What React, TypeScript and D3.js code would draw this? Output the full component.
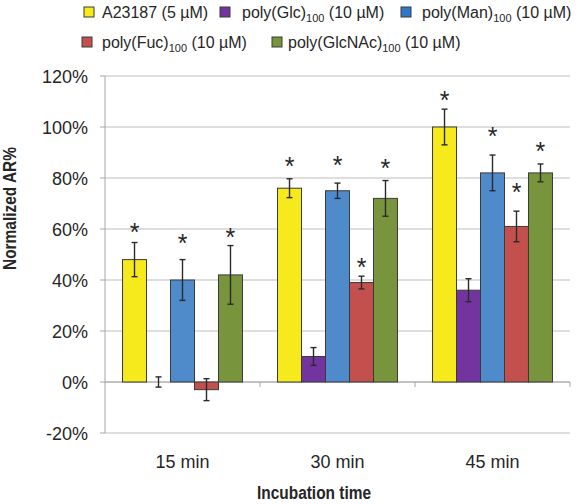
import React from "react";
import * as d3 from "d3";

const categories = ["15 min", "30 min", "45 min"];
const seriesKeys = ["A23187", "polyGlc", "polyMan", "polyFuc", "polyGlcNAc"];
const seriesPre = ["A23187 (5 µM)", "poly(Glc)", "poly(Man)", "poly(Fuc)", "poly(GlcNAc)"];
const seriesSub = ["", "100", "100", "100", "100"];
const seriesPost = ["", " (10 µM)", " (10 µM)", " (10 µM)", " (10 µM)"];
const seriesColors = ["#f7ea1c", "#7434a0", "#4f8acb", "#c4504e", "#78953d"];
const legendColors = ["#f7ea1c", "#7434a0", "#2f78c8", "#c4504e", "#78953d"];

// values per series, per category (%)
const valA23187 = [48, 76, 100];
const valGlc = [0, 10, 36];
const valMan = [40, 75, 82];
const valFuc = [-3, 39, 61];
const valGlcNAc = [42, 72, 82];

const errA23187 = [6.7, 3.7, 7];
const errGlc = [2, 3.5, 4.5];
const errMan = [8, 3, 7];
const errFuc = [4.3, 2.5, 6];
const errGlcNAc = [11.5, 7, 3.5];

// significance star positions (value units, % ); null = no star
const starA23187 = [60.6, 86.8, 112.6];
const starGlc = [null, null, null];
const starMan = [56.3, 87.2, 98.5];
const starFuc = [null, 47, 76.3];
const starGlcNAc = [59, 86, 92.7];

const yTicks = [-20, 0, 20, 40, 60, 80, 100, 120];

const values = [valA23187, valGlc, valMan, valFuc, valGlcNAc];
const errors = [errA23187, errGlc, errMan, errFuc, errGlcNAc];
const stars = [starA23187, starGlc, starMan, starFuc, starGlcNAc];

const W = 578;
const H = 504;
const plotLeft = 105;
const plotRight = 570;
const plotTop = 76;
const plotBottom = 433;

const legendLayout = [
  { sx: 84, tx: 102, cy: 12 },
  { sx: 220, tx: 242, cy: 12 },
  { sx: 401, tx: 422, cy: 12 },
  { sx: 82, tx: 102, cy: 42 },
  { sx: 272, tx: 288, cy: 42 },
];

const FONT = "'Liberation Sans', Arial, sans-serif";
const TEXT = "#262626";

export default function App() {
  const y = d3.scaleLinear().domain([-20, 120]).range([plotBottom, plotTop]);
  const x0 = d3.scaleBand<string>().domain(categories).range([plotLeft, plotRight]).paddingInner(0).paddingOuter(0);
  const bw = x0.bandwidth();
  const x1 = d3.scaleBand<string>().domain(seriesKeys).range([0, bw]).paddingInner(0).paddingOuter(0.73);
  const barW = x1.bandwidth();
  const y0 = y(0);

  return (
    <svg width={W} height={H} style={{ position: "absolute", left: 0, top: 0, background: "#fff" }} fontFamily={FONT}>
      <rect x={0} y={0} width={W} height={H} fill="#fff" />
      {/* gridlines */}
      {yTicks.map((t) => (
        <line key={"g" + t} x1={plotLeft} x2={plotRight} y1={y(t)} y2={y(t)} stroke="#bdbdbd" strokeWidth={1} />
      ))}
      {/* y axis */}
      <line x1={plotLeft} x2={plotLeft} y1={plotTop} y2={plotBottom} stroke="#a6a6a6" strokeWidth={1} />
      {yTicks.map((t) => (
        <g key={"t" + t}>
          <line x1={plotLeft - 5} x2={plotLeft} y1={y(t)} y2={y(t)} stroke="#a6a6a6" />
          <text x={88} y={y(t) + 6.5} textAnchor="end" fontSize={18} fill={TEXT}>
            {t + "%"}
          </text>
        </g>
      ))}
      {/* category ticks at zero line */}
      <line x1={plotLeft} x2={plotRight} y1={y0} y2={y0} stroke="#a6a6a6" />
      {categories.map((c) => (
        <line key={"ct" + c} x1={(x0(c) as number) + bw} x2={(x0(c) as number) + bw} y1={y0} y2={y0 + 5} stroke="#a6a6a6" />
      ))}
      {/* bars */}
      {seriesKeys.map((s, si) =>
        categories.map((c, ci) => {
          const v = values[si][ci];
          const bx = (x0(c) as number) + (x1(s) as number);
          const top = Math.min(y(v), y0);
          const h = Math.abs(y(v) - y0);
          return (
            <rect key={s + c} x={bx} y={top} width={barW} height={h} fill={seriesColors[si]} stroke="#3a3a3a" strokeWidth={1} />
          );
        })
      )}
      {/* error bars */}
      {seriesKeys.map((s, si) =>
        categories.map((c, ci) => {
          const v = values[si][ci];
          const e = errors[si][ci];
          const cx = (x0(c) as number) + (x1(s) as number) + barW / 2;
          return (
            <g key={"e" + s + c} stroke="#2a2a2a" strokeWidth={1.4}>
              <line x1={cx} x2={cx} y1={y(v + e)} y2={y(v - e)} />
              <line x1={cx - 3} x2={cx + 3} y1={y(v + e)} y2={y(v + e)} />
              <line x1={cx - 3} x2={cx + 3} y1={y(v - e)} y2={y(v - e)} />
            </g>
          );
        })
      )}
      {/* stars */}
      {seriesKeys.map((s, si) =>
        categories.map((c, ci) => {
          const st = stars[si][ci];
          if (st === null) return null;
          const cx = (x0(c) as number) + (x1(s) as number) + barW / 2;
          return (
            <text key={"s" + s + c} x={cx} y={y(st) + 14} textAnchor="middle" fontSize={25} fill={TEXT}>
              *
            </text>
          );
        })
      )}
      {/* category labels */}
      {categories.map((c) => (
        <text key={"cl" + c} x={(x0(c) as number) + bw / 2} y={468} textAnchor="middle" fontSize={18} fill={TEXT}>
          {c}
        </text>
      ))}
      {/* axis titles */}
      <text x={314} y={499} textAnchor="middle" fontSize={18} fontWeight="bold" fill={TEXT} textLength={114} lengthAdjust="spacingAndGlyphs">
        Incubation time
      </text>
      <text
        transform={`translate(16,${(147 + 270) / 2}) rotate(-90)`}
        textAnchor="middle"
        fontSize={18}
        fontWeight="bold"
        fill={TEXT}
        textLength={123}
        lengthAdjust="spacingAndGlyphs"
      >
        Normalized AR%
      </text>
      {/* legend */}
      {seriesKeys.map((s, si) => {
        const L = legendLayout[si];
        return (
          <g key={"l" + s}>
            <rect x={L.sx} y={L.cy - 5} width={10} height={10} fill={legendColors[si]} stroke="#3a3a3a" strokeWidth={1} />
            <text x={L.tx} y={L.cy + 5.5} fontSize={16} fill={TEXT}>
              {seriesPre[si]}
              {seriesSub[si] ? (
                <tspan fontSize={11} dy={4}>
                  {seriesSub[si]}
                </tspan>
              ) : null}
              {seriesPost[si] ? <tspan dy={seriesSub[si] ? -4 : 0}>{seriesPost[si]}</tspan> : null}
            </text>
          </g>
        );
      })}
    </svg>
  );
}
